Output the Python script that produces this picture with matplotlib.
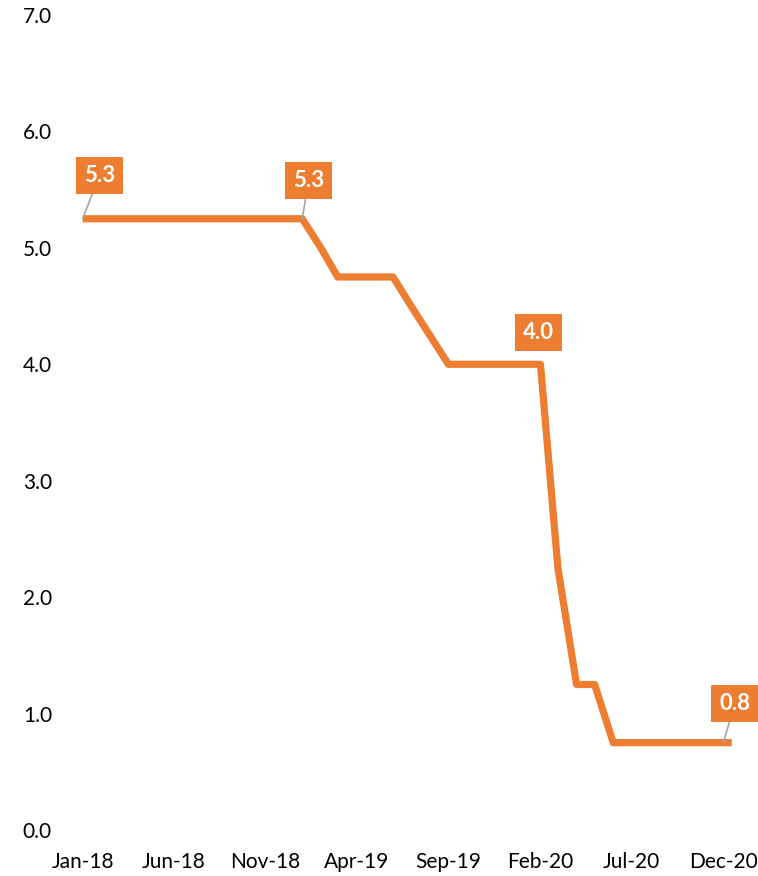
import math
import pandas as pd
import matplotlib.pyplot as plt
import matplotlib.dates as mdates

# policy rate, monthly, Jan-18 .. Dec-20 (+ last observation mid-Dec)
dates = list(pd.date_range("2018-01-01", "2020-12-01", freq="MS")) + [pd.Timestamp("2020-12-15")]
rate = ([5.25] * 13 + [5.0] + [4.75] * 4 + [4.5, 4.25] + [4.0] * 6
        + [2.25, 1.25, 1.25] + [0.75] * 7 + [0.75])

# points that carry a value label: (index, offset in points, draw leader)
labelled = [(0, (12.2, 31.3), True),
            (12, (4.7, 27.7), True),
            (25, (-1.1, 23.0), False),
            (35, (8.3, 28.1), True)]

orange = "#ED7D31"
plt.rcParams["font.family"] = ["Lato", "DejaVu Sans"]


def one_decimal(v):
    # round half up, like the spreadsheet does
    return f"{math.floor(v * 10 + 0.5) / 10:.1f}"


fig = plt.figure(figsize=(7.58, 8.76), dpi=100)
ax = fig.add_axes([70 / 758, 46 / 876, 675 / 758, 815 / 876])

ax.plot(dates, rate, color=orange, lw=5.2, solid_joinstyle="round", solid_capstyle="butt")

for i, off, leader in labelled:
    arrow = dict(arrowstyle="-", color="#A6A6A6", lw=1.2, shrinkA=0, shrinkB=0) if leader else None
    ax.annotate(one_decimal(rate[i]), xy=(dates[i], rate[i]), xytext=off,
                textcoords="offset points", ha="center", va="center",
                fontsize=16, fontweight="bold", color="white",
                bbox=dict(boxstyle="square,pad=0.36", fc=orange, ec="none"),
                arrowprops=arrow)

ax.set_ylim(0, 7)
ax.set_yticks(range(8))
ax.set_yticklabels([f"{v:.1f}" for v in range(8)])
ax.set_xlim(pd.Timestamp("2017-12-11"), pd.Timestamp("2021-01-06"))
ax.set_xticks(dates[0:36:5])
ax.xaxis.set_major_formatter(mdates.DateFormatter("%b-%y"))

for s in ax.spines.values():
    s.set_visible(False)
ax.tick_params(axis="y", length=0, pad=13, labelsize=15, labelcolor="black")
ax.tick_params(axis="x", length=0, pad=16, labelsize=15, labelcolor="black")

fig.savefig("out.png", dpi=100)
